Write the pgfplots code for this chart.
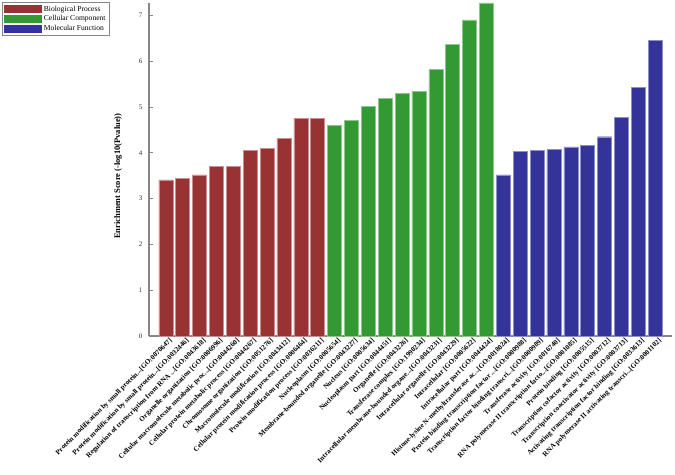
\documentclass[border=0pt]{standalone}
\usepackage{pgfplots}
\pgfplotsset{compat=1.18}
\usepackage{fontspec}
\setmainfont{Liberation Serif}
\definecolor{bpred}{RGB}{153,51,51}
\definecolor{ccgreen}{RGB}{51,153,51}
\definecolor{mfblue}{RGB}{51,51,153}
\definecolor{axgray}{RGB}{135,135,135}
\newcommand\ddd{...}
\begin{document}
\begin{tikzpicture}
\begin{axis}[
  scale only axis,
  width=523bp, height=333bp,
  xmin=-1, xmax=30, ymin=0, ymax=7.27,
  ybar, bar width=0.83, bar shift=0pt,
  axis x line*=bottom, axis y line*=left,
  axis line style={axgray, line width=1.3pt, -},
  ytick={0,1,2,3,4,5,6,7},
  ytick style={axgray, line width=0.8pt},
  tick align=inside, major tick length=4bp,
  xtick={0,1,2,3,4,5,6,7,8,9,10,11,12,13,14,15,16,17,18,19,20,21,22,23,24,25,26,27,28,29},
  xtick style={draw=none},
  /pgf/number format/assume math mode=true,
  yticklabel style={font=\fontsize{7}{8}\selectfont, text=black!80, xshift=-3bp},
  xticklabels={
    {Protein modification by small protein\ddd[GO:0070647]},
    {Protein modification by small protein\ddd[GO:0032446]},
    {Regulation of transcription from RNA \ddd[GO:0043618]},
    {Organelle organization [GO:0006996]},
    {Cellular macromolecule metabolic proc\ddd[GO:0044260]},
    {Cellular protein metabolic process [GO:0044267]},
    {Chromosome organization [GO:0051276]},
    {Macromolecule modification [GO:0043412]},
    {Cellular protein modification process [GO:0006464]},
    {Protein modification process [GO:0036211]},
    {Nucleoplasm [GO:0005654]},
    {Membrane-bounded organelle [GO:0043227]},
    {Nucleus [GO:0005634]},
    {Nucleoplasm part [GO:0044451]},
    {Organelle [GO:0043226]},
    {Transferase complex [GO:1990234]},
    {Intracellular membrane-bounded organe\ddd[GO:0043231]},
    {Intracellular organelle [GO:0043229]},
    {Intracellular [GO:0005622]},
    {Intracellular part [GO:0044424]},
    {Histone-lysine N-methyltransferase ac\ddd[GO:0018024]},
    {Protein binding transcription factor \ddd[GO:0000988]},
    {Transcription factor binding transcri\ddd[GO:0000989]},
    {Transferase activity [GO:0016740]},
    {RNA polymerase II transcription facto\ddd[GO:0001085]},
    {Protein binding [GO:0005515]},
    {Transcription cofactor activity [GO:0003712]},
    {Transcription coactivator activity [GO:0003713]},
    {Activating transcription factor binding [GO:0033613]},
    {RNA polymerase II activating transcri\ddd[GO:0001102]}
  },
  xticklabel style={rotate=45, anchor=north east, font=\bfseries\fontsize{7.1}{7.5}\selectfont, inner sep=1pt, xshift=2bp, yshift=-2bp},
  ylabel={Enrichment Score (-log10(Pvalue))},
  ylabel style={at={(axis description cs:-0.059,0.48)}, anchor=center, font=\bfseries\fontsize{8.5}{9}\selectfont},
  legend style={at={(axis description cs:-0.281,1.003)}, anchor=north west,
    draw=axgray, line width=0.8pt, font=\fontsize{7.6}{8.5}\selectfont,
    inner sep=1.5pt, row sep=-1pt, cells={anchor=west}},
  legend image code/.code={\fill[#1, draw=none] (0bp,-3.8bp) rectangle (38bp,3.8bp);},
]
\addplot[fill=bpred, draw=bpred!55!white, line width=0.5pt] coordinates {
(0,3.41) (1,3.44) (2,3.52) (3,3.70) (4,3.71) (5,4.05) (6,4.10) (7,4.31) (8,4.75) (9,4.75)};
\addlegendentry{Biological Process}
\addplot[fill=ccgreen, draw=ccgreen!55!white, line width=0.5pt] coordinates {
(10,4.60) (11,4.70) (12,5.02) (13,5.18) (14,5.29) (15,5.34) (16,5.82) (17,6.37) (18,6.90) (19,7.27)};
\addlegendentry{Cellular Component}
\addplot[fill=mfblue, draw=mfblue!55!white, line width=0.5pt] coordinates {
(20,3.52) (21,4.03) (22,4.05) (23,4.07) (24,4.13) (25,4.16) (26,4.35) (27,4.78) (28,5.42) (29,6.45)};
\addlegendentry{Molecular Function}
\end{axis}
\pgfresetboundingbox
\path[use as bounding box] (-149bp,-139bp) rectangle (526bp,336bp);
\end{tikzpicture}
\end{document}
